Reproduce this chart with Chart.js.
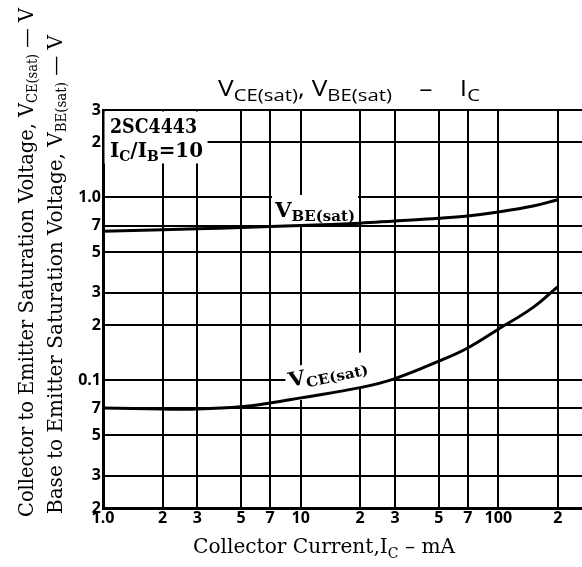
<!DOCTYPE html>
<html>
<head>
<meta charset="utf-8">
<script src="https://cdn.jsdelivr.net/npm/chart.js@4.4.1/dist/chart.umd.min.js"></script>
<style>
  html, body { margin: 0; padding: 0; background: #fff; }
  canvas { display: block; }
</style>
</head>
<body>
<canvas id="satChart" width="582" height="567"></canvas>
<script>
// Collector current (mA) and saturation voltages
const currentMA = [1, 2, 3, 5, 7, 10, 20, 30, 50, 70, 100, 150, 200];
const vbeSat = [0.652, 0.665, 0.673, 0.683, 0.692, 0.70, 0.722, 0.742, 0.767, 0.79, 0.83, 0.895, 0.97];
const vceSat = [0.0705, 0.0695, 0.0695, 0.0715, 0.075, 0.080, 0.091, 0.102, 0.127, 0.15, 0.19, 0.25, 0.325];

// Grid / tick positions and the labels printed at them
const xTicks = [1, 2, 3, 5, 7, 10, 20, 30, 50, 70, 100, 200];
const xTickLabels = ['1.0', '2', '3', '5', '7', '10', '2', '3', '5', '7', '100', '2'];
const yTicks = [0.02, 0.03, 0.05, 0.07, 0.1, 0.2, 0.3, 0.5, 0.7, 1, 2, 3];
const yTickLabels = ['2', '3', '5', '7', '0.1', '2', '3', '5', '7', '1.0', '2', '3'];

const SERIF = '"DejaVu Serif", "Liberation Serif", serif';
const SANS = '"Open Sans", "DejaVu Sans", sans-serif';

// draw text made of parts (for subscripts), optionally squeezed to a width
function richWidth(ctx, parts) {
    let w = 0;
    parts.forEach(p => { ctx.font = p.font; w += ctx.measureText(p.t).width; });
    return w;
}
function drawRich(ctx, parts, x, y, fitW) {
    const w = richWidth(ctx, parts);
    const sx = fitW ? fitW / w : 1;
    ctx.save();
    ctx.translate(x, y);
    ctx.scale(sx, 1);
    ctx.fillStyle = '#000';
    ctx.textAlign = 'left';
    ctx.textBaseline = 'alphabetic';
    let cx = 0;
    parts.forEach(p => {
        ctx.font = p.font;
        ctx.fillText(p.t, cx, p.dy || 0);
        cx += ctx.measureText(p.t).width;
    });
    ctx.restore();
}

const whiteBg = {
    id: 'whiteBg',
    beforeDraw(chart) {
        const c = chart.ctx;
        c.save();
        c.fillStyle = '#fff';
        c.fillRect(0, 0, chart.width, chart.height);
        c.restore();
    }
};

// labels inside the plot, with white boxes that break the grid like the original
const plotLabels = {
    id: 'plotLabels',
    beforeDatasetsDraw(chart) {
        const c = chart.ctx;
        c.save();
        c.fillStyle = '#fff';
        c.fillRect(104.5, 111.5, 103, 52);
        c.fillRect(272, 195, 86, 29);
        c.restore();

        drawRich(c, [{ t: '2SC4443', font: 'bold 20px ' + SERIF }], 110, 133, 87);
        drawRich(c, [
            { t: 'I', font: 'bold 20px ' + SERIF },
            { t: 'C', font: 'bold 14px ' + SERIF, dy: 4 },
            { t: '/I', font: 'bold 20px ' + SERIF },
            { t: 'B', font: 'bold 14px ' + SERIF, dy: 4 },
            { t: '=10', font: 'bold 20px ' + SERIF }
        ], 110, 157, 93);

        drawRich(c, [
            { t: 'V', font: 'bold 20px ' + SERIF },
            { t: 'BE(sat)', font: 'bold 14px ' + SERIF, dy: 4 }
        ], 275, 217, 80);

        // rotated V_CE(sat) label
        c.save();
        c.translate(290, 387);
        c.rotate(-0.21);
        c.fillStyle = '#fff';
        c.fillRect(-3, -19, 102, 34);
        c.restore();
        c.save();
        c.translate(290, 387);
        c.rotate(-0.21);
        drawRich(c, [
            { t: 'V', font: 'bold 20px ' + SERIF },
            { t: 'CE(sat)', font: 'bold 14px ' + SERIF, dy: 4 }
        ], 0, 0, 80);
        c.restore();
    }
};

const outerText = {
    id: 'outerText',
    afterDraw(chart) {
        const c = chart.ctx;
        // title
        drawRich(c, [
            { t: 'V', font: '22px ' + SANS },
            { t: 'CE(sat)', font: '17px ' + SANS, dy: 5 },
            { t: ', V', font: '22px ' + SANS },
            { t: 'BE(sat)', font: '17px ' + SANS, dy: 5 },
            { t: '    \u2013    I', font: '22px ' + SANS },
            { t: 'C', font: '17px ' + SANS, dy: 5 }
        ], 218, 96, 262);

        // x axis title
        drawRich(c, [
            { t: 'Collector Current,I', font: '20px ' + SERIF },
            { t: 'C', font: '14px ' + SERIF, dy: 5 },
            { t: ' \u2013 mA', font: '20px ' + SERIF }
        ], 193, 553, 262);

        // y axis titles (two lines, rotated)
        c.save();
        c.translate(33, 517);
        c.rotate(-Math.PI / 2);
        drawRich(c, [
            { t: 'Collector to Emitter Saturation Voltage, V', font: '21px ' + SERIF },
            { t: 'CE(sat)', font: '14px ' + SERIF, dy: 4 },
            { t: ' \u2014 V', font: '21px ' + SERIF }
        ], 0, 0, 509);
        c.restore();

        c.save();
        c.translate(62, 514);
        c.rotate(-Math.PI / 2);
        drawRich(c, [
            { t: 'Base to Emitter Saturation Voltage, V', font: '21px ' + SERIF },
            { t: 'BE(sat)', font: '14px ' + SERIF, dy: 4 },
            { t: ' \u2014 V', font: '21px ' + SERIF }
        ], 0, 0, 479);
        c.restore();
    }
};

const ctx = document.getElementById('satChart').getContext('2d');

const satChart = new Chart(ctx, {
    type: 'line',
    data: {
        datasets: [{
            label: 'VBE(sat)',
            data: currentMA.map((x, i) => ({ x: x, y: vbeSat[i] })),
            borderColor: '#000',
            borderWidth: 3,
            pointRadius: 0,
            tension: 0.4
        },
        {
            label: 'VCE(sat)',
            data: currentMA.map((x, i) => ({ x: x, y: vceSat[i] })),
            borderColor: '#000',
            borderWidth: 3,
            pointRadius: 0,
            tension: 0.4
        }]
    },
    options: {
        responsive: false,
        animation: false,
        layout: { padding: { top: 110, left: 0, right: 0, bottom: 0 } },
        plugins: {
            legend: { display: false },
            tooltip: { enabled: false },
            title: { display: false }
        },
        scales: {
            x: {
                type: 'logarithmic',
                min: 1,
                max: 265,
                afterBuildTicks: scale => { scale.ticks = xTicks.map(v => ({ value: v })); },
                afterFit: scale => { scale.height = 59; },
                grid: { color: '#000', lineWidth: 2, drawTicks: false },
                border: { color: '#000', width: 3 },
                ticks: {
                    color: '#000',
                    font: { family: SANS, size: 16, weight: 'bold' },
                    padding: 1,
                    maxRotation: 0,
                    autoSkip: false,
                    callback: (value, index) => xTickLabels[index]
                }
            },
            y: {
                type: 'logarithmic',
                min: 0.02,
                max: 3,
                afterBuildTicks: scale => { scale.ticks = yTicks.map(v => ({ value: v })); },
                afterFit: scale => { scale.width = 103; },
                grid: { color: '#000', lineWidth: 2, drawTicks: false },
                border: { color: '#000', width: 3 },
                ticks: {
                    color: '#000',
                    font: { family: SANS, size: 16, weight: 'bold' },
                    padding: 2,
                    autoSkip: false,
                    callback: (value, index) => yTickLabels[index]
                }
            }
        }
    },
    plugins: [whiteBg, plotLabels, outerText]
});
</script>
</body>
</html>
